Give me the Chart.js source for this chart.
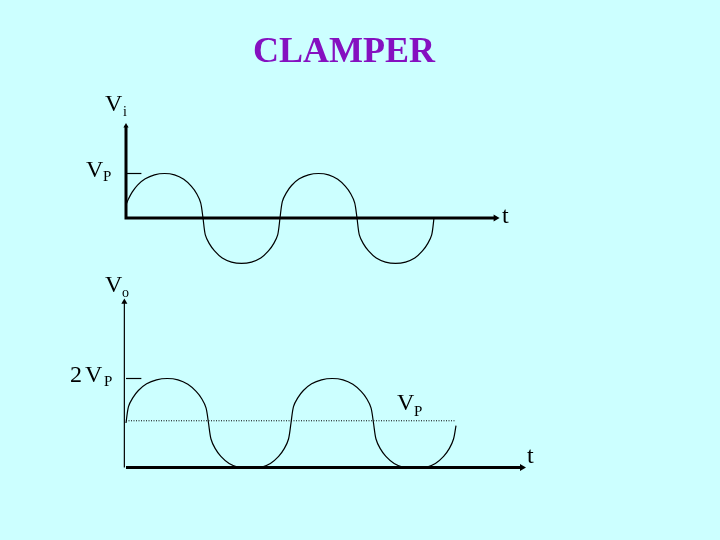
<!DOCTYPE html>
<html>
<head>
<meta charset="utf-8">
<script src="https://cdn.jsdelivr.net/npm/chart.js@4.4.0/dist/chart.umd.min.js"></script>
<style>
  body { margin: 0; background: #ccffff; }
  #page { position: relative; width: 720px; height: 540px; overflow: hidden; background: #ccffff;
          font-family: "Liberation Serif", "Times New Roman", serif; color: #000; }
  canvas { position: absolute; left: 0; top: 0; }
  .lbl { position: absolute; line-height: 1; white-space: nowrap; }
</style>
</head>
<body>
<div id="page">
  <canvas id="topChart" width="720" height="540"></canvas>
  <canvas id="botChart" width="720" height="540"></canvas>

  <div class="lbl" style="left:253px;top:32px;font-size:36px;font-weight:bold;color:#8510c0">CLAMPER</div>

  <!-- entrada -->
  <div class="lbl" style="left:105px;top:91px;font-size:24px">V</div>
  <div class="lbl" style="left:123px;top:105px;font-size:14px">i</div>
  <div class="lbl" style="left:86px;top:157px;font-size:24px">V</div>
  <div class="lbl" style="left:103px;top:169px;font-size:15px">P</div>
  <div class="lbl" style="left:502px;top:203px;font-size:24px">t</div>

  <!-- saida -->
  <div class="lbl" style="left:105px;top:272px;font-size:24px">V</div>
  <div class="lbl" style="left:122px;top:286px;font-size:14px">o</div>
  <div class="lbl" style="left:70px;top:362px;font-size:24px">2</div>
  <div class="lbl" style="left:85px;top:362px;font-size:24px">V</div>
  <div class="lbl" style="left:104px;top:374px;font-size:15px">P</div>
  <div class="lbl" style="left:397px;top:390px;font-size:24px">V</div>
  <div class="lbl" style="left:414px;top:404px;font-size:15px">P</div>
  <div class="lbl" style="left:527px;top:443px;font-size:24px">t</div>
</div>

<script>
// t em meios-periodos, tensao em unidades de Vp
const topT = [0, 0.03, 0.08, 0.15, 0.25, 0.37, 0.5, 0.63, 0.75, 0.85, 0.92, 0.97, 1.0,
              1.03, 1.08, 1.15, 1.25, 1.37, 1.5, 1.63, 1.75, 1.85, 1.92, 1.97, 2.0,
              2.03, 2.08, 2.15, 2.25, 2.37, 2.5, 2.63, 2.75, 2.85, 2.92, 2.97, 3.0,
              3.03, 3.08, 3.15, 3.25, 3.37, 3.5, 3.63, 3.75, 3.85, 3.92, 3.97, 4.0];
const topV = [0.3, 0.42, 0.58, 0.74, 0.88, 0.97, 1.0, 0.97, 0.87, 0.71, 0.54, 0.34, 0,
              -0.38, -0.57, -0.74, -0.9, -0.99, -1.02, -0.99, -0.9, -0.74, -0.57, -0.38, 0,
              0.37, 0.56, 0.73, 0.88, 0.97, 1.0, 0.97, 0.87, 0.71, 0.54, 0.34, 0,
              -0.38, -0.57, -0.74, -0.9, -0.99, -1.02, -0.99, -0.9, -0.74, -0.57, -0.38, 0];

const botT = [0, 0.03, 0.08, 0.15, 0.25, 0.37, 0.5, 0.63, 0.75, 0.85, 0.92, 0.97, 1.0,
              1.03, 1.08, 1.15, 1.25, 1.37, 1.5, 1.63, 1.75, 1.85, 1.92, 1.97, 2.0,
              2.03, 2.08, 2.15, 2.25, 2.37, 2.5, 2.63, 2.75, 2.85, 2.92, 2.97, 3.0,
              3.03, 3.08, 3.15, 3.25, 3.37, 3.5, 3.63, 3.75, 3.85, 3.92, 3.97, 4.0];
const botV = [1.0, 1.37, 1.56, 1.73, 1.88, 1.97, 2.0, 1.97, 1.87, 1.71, 1.54, 1.34, 1.0,
              0.64, 0.43, 0.25, 0.09, 0, 0, 0, 0.09, 0.25, 0.43, 0.64, 1.0,
              1.37, 1.56, 1.73, 1.88, 1.97, 2.0, 1.97, 1.87, 1.71, 1.54, 1.34, 1.0,
              0.64, 0.43, 0.25, 0.09, 0, 0, 0, 0.09, 0.25, 0.43, 0.64, 0.94];

const tMax = 4.8;     // fim do eixo t
const viTop = 2.07;   // topo do eixo Vi
const voTop = 3.72;   // topo do eixo Vo
const vpLevel = 1;    // nivel Vp (linha pontilhada)
const twoVp = 2;      // nivel 2 Vp
const tickLen = 0.2;  // marca de Vp no eixo

function toPoints(xs, ys) {
  return xs.map((x, i) => ({ x: x, y: ys[i] }));
}

function makeChart(id, datasets, xMin, xMax, yMin, yMax, padding) {
  const ctx = document.getElementById(id).getContext("2d");
  return new Chart(ctx, {
    type: "scatter",
    data: { datasets: datasets },
    options: {
      responsive: false,
      animation: false,
      events: [],
      layout: { padding: padding },
      plugins: { legend: { display: false }, tooltip: { enabled: false } },
      scales: {
        x: { type: "linear", display: false, min: xMin, max: xMax },
        y: { type: "linear", display: false, min: yMin, max: yMax },
      },
    },
  });
}

// estilo comum para as linhas
function linha(data, width, extra) {
  return Object.assign({
    data: data,
    showLine: true,
    borderColor: "#000",
    borderWidth: width,
    pointRadius: 0,
    clip: false,
  }, extra || {});
}

// grafico de entrada
makeChart("topChart", [
  linha([{ x: 0, y: viTop }, { x: 0, y: 0 }, { x: tMax, y: 0 }], 3, {
    pointStyle: "triangle",
    pointRadius: [3, 0, 4],
    pointRotation: [0, 0, 90],
    pointBackgroundColor: "#000",
    pointBorderWidth: 0,
  }),
  linha([{ x: 0, y: vpLevel }, { x: tickLen, y: vpLevel }], 1.2),
  linha(toPoints(topT, topV), 1.2, { tension: 0.3 }),
], 0, tMax, -1.1, 2.1, { left: 126, right: 224.4, top: 124.55, bottom: 273.05 });

// grafico de saida
makeChart("botChart", [
  linha([{ x: 0, y: 0 }, { x: tMax, y: 0 }], 3, {
    pointStyle: "triangle",
    pointRadius: [0, 4],
    pointRotation: [0, 90],
    pointBackgroundColor: "#000",
    pointBorderWidth: 0,
  }),
  linha([{ x: -0.02, y: voTop }, { x: -0.02, y: 0 }], 1.2, {
    pointStyle: "triangle",
    pointRadius: [3.5, 0],
    pointBackgroundColor: "#000",
    pointBorderWidth: 0,
  }),
  linha([{ x: 0, y: twoVp }, { x: tickLen * 0.93, y: twoVp }], 1.2),
  linha(toPoints(botT, botV), 1.2, { tension: 0.3 }),
  linha([{ x: 0, y: vpLevel + 0.05 }, { x: 4.0, y: vpLevel + 0.05 }], 1, { borderDash: [1, 1.5] }),
], 0, tMax, -0.1, 3.8, { left: 126, right: 198, top: 298.4, bottom: 68.05 });
</script>
</body>
</html>
